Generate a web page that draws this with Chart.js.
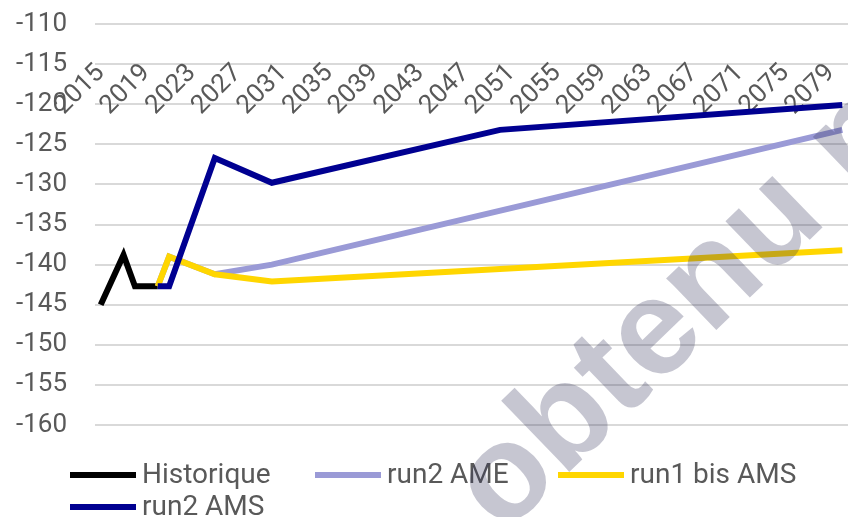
<!DOCTYPE html>
<html>
<head>
<meta charset="utf-8">
<script src="https://cdn.jsdelivr.net/npm/chart.js@4"></script>
<style>
  body { margin: 0; background: #fff; }
  canvas { display: block; }
</style>
</head>
<body>
<canvas id="chart" width="848" height="517"></canvas>
<script>
// --- données ---
const years = [];
for (let y = 2015; y <= 2080; y++) years.push(y);
const tickYears = [2015, 2019, 2023, 2027, 2031, 2035, 2039, 2043, 2047, 2051, 2055, 2059, 2063, 2067, 2071, 2075, 2079];

const histYears = [2015, 2017, 2018, 2020];
const histValues = [-145, -138.8, -142.7, -142.7];

const ameYears = [2020, 2021, 2025, 2030, 2080];
const ameValues = [-142.7, -139, -141.2, -140, -123.2];

const bisYears = [2020, 2021, 2025, 2030, 2080];
const bisValues = [-142.7, -139, -141.2, -142.1, -138.2];

const amsYears = [2020, 2021, 2025, 2030, 2050, 2080];
const amsValues = [-142.7, -142.7, -126.7, -129.8, -123.2, -120.1];

const toPoints = (xs, ys) => xs.map((x, i) => ({ x: x, y: ys[i] }));

const textColor = "#595959";

// légende dessinée à la main (colonnes fixes comme dans Excel)
const legendPlugin = {
  id: "excelLegend",
  afterDraw(chart) {
    const ctx = chart.ctx;
    const cols = [70, 315, 558];
    const rows = [475, 507];
    ctx.save();
    ctx.font = '28px Roboto';
    ctx.textBaseline = "middle";
    chart.data.datasets.forEach((ds, i) => {
      const x = cols[i % 3];
      const y = rows[Math.floor(i / 3)];
      ctx.fillStyle = ds.borderColor;
      ctx.fillRect(x, y - 3, 66, 6);
      ctx.fillStyle = textColor;
      ctx.fillText(ds.label, x + 72, y + 1);
    });
    ctx.restore();
  },
};

// filigrane
const watermarkPlugin = {
  id: "watermark",
  afterDraw(chart) {
    const ctx = chart.ctx;
    ctx.save();
    ctx.translate(503, 536);
    ctx.rotate(-44 * Math.PI / 180);
    ctx.font = 'bold 136px "Liberation Sans"';
    ctx.fillStyle = "rgba(45, 45, 85, 0.27)";
    ctx.fillText("obtenu par", 0, 0);
    ctx.restore();
  },
};

const chart = new Chart(document.getElementById("chart"), {
  type: "line",
  data: {
    labels: years,
    datasets: [
      { label: "Historique", data: toPoints(histYears, histValues), borderColor: "#000000", order: 3 },
      { label: "run2 AME", data: toPoints(ameYears, ameValues), borderColor: "#9a9ad6", order: 2 },
      { label: "run1 bis AMS", data: toPoints(bisYears, bisValues), borderColor: "#ffd600", order: 1 },
      { label: "run2 AMS", data: toPoints(amsYears, amsValues), borderColor: "#000091", order: 0 },
    ],
  },
  options: {
    responsive: false,
    devicePixelRatio: 1,
    animation: false,
    layout: { padding: { top: 24, bottom: 92, left: 0, right: 0 } },
    elements: {
      line: { borderWidth: 6, tension: 0, borderJoinStyle: "miter", borderCapStyle: "butt" },
      point: { radius: 0 },
    },
    plugins: {
      legend: { display: false },
      tooltip: { enabled: false },
    },
    scales: {
      x: {
        position: { y: -110 },
        offset: true,
        afterFit: (scale) => {
          scale.paddingLeft = 0;
          scale.paddingRight = 0;
        },
        grid: { display: false, drawTicks: false },
        border: { display: false },
        ticks: {
          autoSkip: false,
          minRotation: 45,
          maxRotation: 45,
          padding: 34,
          color: textColor,
          font: { family: "Roboto", size: 26 },
          callback: function (value) {
            const yr = this.getLabelForValue(value);
            return tickYears.includes(yr) ? String(yr) : "";
          },
        },
      },
      y: {
        min: -160,
        max: -110,
        afterFit: (scale) => {
          scale.width = 95;
          scale.paddingTop = 0;
          scale.paddingBottom = 0;
        },
        grid: { color: "#d9d9d9", lineWidth: 2, drawTicks: false },
        border: { display: false },
        ticks: {
          stepSize: 5,
          padding: 28,
          color: textColor,
          font: { family: "Roboto", size: 26 },
        },
      },
    },
  },
  plugins: [legendPlugin, watermarkPlugin],
});
</script>
</body>
</html>
